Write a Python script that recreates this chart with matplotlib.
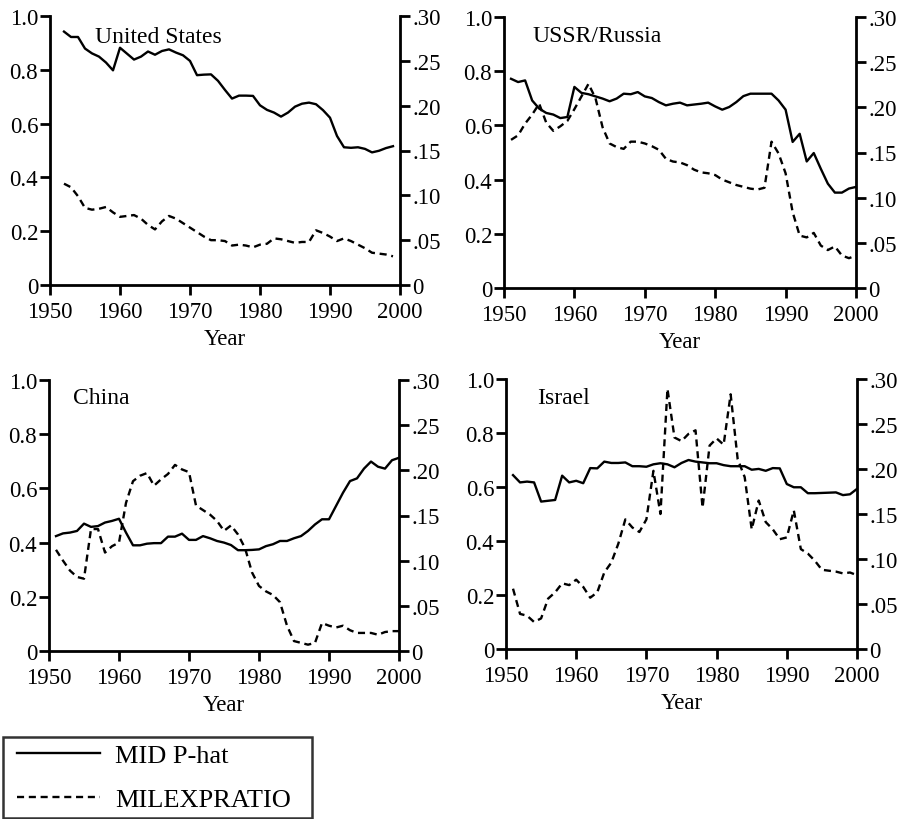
import matplotlib
matplotlib.use("Agg")
import matplotlib.pyplot as plt
from matplotlib.lines import Line2D
from matplotlib.legend_handler import HandlerLine2D

plt.rcParams['font.family'] = ['Liberation Serif', 'DejaVu Serif']
FS = 16.5

# ---------------- data ----------------
us_years = list(range(1952, 2000))
us_phat = [0.942, 0.922, 0.922, 0.879, 0.861, 0.849, 0.827, 0.798, 0.882, 0.860,
           0.838, 0.849, 0.868, 0.856, 0.870, 0.876, 0.864, 0.854, 0.833, 0.780,
           0.782, 0.783, 0.759, 0.725, 0.693, 0.704, 0.704, 0.703, 0.668, 0.651,
           0.641, 0.626, 0.641, 0.663, 0.674, 0.678, 0.672, 0.650, 0.622, 0.554,
           0.512, 0.510, 0.512, 0.506, 0.493, 0.499, 0.509, 0.516]
us_milex = [.113, .109, .099, .086, .084, .085, .087, .081, .076, .077,
            .078, .074, .067, .062, .071, .077, .074, .069, .064, .059,
            .054, .050, .050, .049, .044, .045, .044, .042, .045, .046,
            .052, .051, .049, .047, .048, .048, .061, .058, .054, .049,
            .052, .049, .045, .041, .036, .035, .034, .032]

ru_years = list(range(1951, 2001))
ru_phat = [0.772, 0.760, 0.766, 0.692, 0.662, 0.646, 0.640, 0.627, 0.631, 0.742,
           0.720, 0.715, 0.707, 0.699, 0.689, 0.699, 0.717, 0.715, 0.723, 0.707,
           0.701, 0.686, 0.674, 0.680, 0.684, 0.674, 0.677, 0.680, 0.684, 0.670,
           0.658, 0.668, 0.686, 0.708, 0.717, 0.717, 0.717, 0.717, 0.692, 0.658,
           0.539, 0.569, 0.467, 0.498, 0.440, 0.385, 0.352, 0.352, 0.367, 0.373]
ru_milex = [.164, .169, .182, .192, .204, .183, .174, .179, .185, .198,
            .212, .226, .210, .178, .160, .156, .154, .162, .162, .160,
            .157, .153, .143, .140, .139, .136, .131, .128, .127, .125,
            .120, .117, .114, .112, .110, .109, .111, .162, .149, .127,
            .084, .058, .056, .061, .047, .042, .046, .036, .033, .036]

cn_years = list(range(1951, 2001))
cn_phat = [0.424, 0.434, 0.437, 0.443, 0.470, 0.458, 0.461, 0.474, 0.480, 0.488,
           0.437, 0.390, 0.390, 0.396, 0.398, 0.398, 0.422, 0.422, 0.433, 0.410,
           0.410, 0.424, 0.416, 0.406, 0.400, 0.391, 0.372, 0.372, 0.373, 0.375,
           0.387, 0.394, 0.406, 0.406, 0.416, 0.424, 0.443, 0.467, 0.486, 0.486,
           0.535, 0.584, 0.627, 0.637, 0.673, 0.699, 0.680, 0.673, 0.704, 0.713]
cn_milex = [.112, .100, .089, .082, .080, .135, .135, .109, .116, .120,
            .164, .188, .194, .197, .183, .190, .196, .206, .201, .198,
            .161, .156, .151, .144, .133, .139, .129, .114, .087, .072,
            .066, .062, .054, .028, .011, .009, .007, .009, .031, .028,
            .026, .028, .023, .020, .020, .020, .018, .021, .022, .022]

il_years = list(range(1951, 2001))
il_phat = [0.644, 0.617, 0.620, 0.617, 0.546, 0.549, 0.552, 0.642, 0.617, 0.623,
           0.614, 0.670, 0.669, 0.694, 0.689, 0.689, 0.691, 0.677, 0.677, 0.675,
           0.684, 0.688, 0.684, 0.673, 0.689, 0.700, 0.694, 0.691, 0.688, 0.688,
           0.681, 0.677, 0.677, 0.677, 0.664, 0.667, 0.660, 0.670, 0.669, 0.611,
           0.599, 0.599, 0.577, 0.577, 0.578, 0.579, 0.580, 0.570, 0.573, 0.593]
il_milex = [.067, .039, .037, .030, .034, .056, .063, .073, .071, .077,
            .069, .057, .063, .085, .096, .117, .144, .135, .130, .144,
            .198, .150, .289, .235, .231, .239, .243, .157, .226, .234,
            .227, .283, .211, .191, .133, .165, .141, .133, .122, .124,
            .154, .111, .106, .098, .088, .087, .086, .084, .085, .082]

panels = [
    ("United States", us_years, us_phat, us_milex),
    ("USSR/Russia", ru_years, ru_phat, ru_milex),
    ("China", cn_years, cn_phat, cn_milex),
    ("Israel", il_years, il_phat, il_milex),
]

left_ticks = [0, 0.2, 0.4, 0.6, 0.8, 1.0]
left_labels = ["0", "0.2", "0.4", "0.6", "0.8", "1.0"]
right_ticks = [0, .05, .10, .15, .20, .25, .30]
right_labels = ["0", ".05", ".10", ".15", ".20", ".25", ".30"]
x_ticks = [1950, 1960, 1970, 1980, 1990, 2000]
legend_labels = ["MID P-hat", "MILEXPRATIO"]

# ---------------- layout ----------------
W, H = 909, 820
fig = plt.figure(figsize=(W / 100, H / 100), dpi=100)

boxes = [  # left, top(1.0), right, bottom(0) in pixels
    (50, 17, 400, 286),
    (504, 18, 856, 289),
    (49, 381, 399, 652),
    (506, 380, 857, 650),
]
title_pos = [(0.129, 0.925), (0.082, 0.93), (0.069, 0.937), (0.088, 0.933)]

LW = 1.7
SPW = 2.0
TL = 7.5
DASH = (0, (3, 2))

for (name, yrs, phat, milex), (l, t, r, b), (tx, ty) in zip(panels, boxes, title_pos):
    ax = fig.add_axes([l / W, 1 - b / H, (r - l) / W, (b - t) / H])
    ax2 = ax.twinx()
    ax.plot(yrs, phat, color='black', lw=LW)
    ax2.plot(yrs, milex, color='black', lw=LW, linestyle=DASH)
    ax.set_xlim(1950, 2000)
    ax.set_ylim(0, 1.0)
    ax2.set_ylim(0, 0.30)
    for a in (ax, ax2):
        a.spines['top'].set_visible(False)
        for s in a.spines.values():
            s.set_linewidth(SPW)
        a.patch.set_visible(False)
    ax.spines['right'].set_visible(False)
    ax2.spines['left'].set_visible(False)
    ax2.spines['bottom'].set_visible(False)
    ax.set_yticks(left_ticks)
    ax.set_yticklabels(left_labels)
    ax2.set_yticks(right_ticks)
    ax2.set_yticklabels(right_labels)
    ax.set_xticks(x_ticks)
    ax.set_xticklabels([str(v) for v in x_ticks])
    ax.tick_params(axis='y', direction='out', length=TL, width=SPW,
                   labelsize=FS, pad=1)
    ax.tick_params(axis='x', direction='out', length=TL, width=SPW,
                   labelsize=FS, pad=4)
    ax2.tick_params(axis='y', direction='out', length=TL, width=SPW,
                    labelsize=FS, pad=1.5)
    ax.set_xlabel("Year", fontsize=FS, labelpad=4)
    ax.text(tx, ty, name, transform=ax.transAxes, fontsize=17,
            ha='left', va='center')

LFS = 19
handles = [Line2D([], [], color='black', lw=LW),
           Line2D([], [], color='black', lw=LW, linestyle=DASH)]
hmap = {h: HandlerLine2D(xpad=0.27) for h in handles}
leg = fig.legend(handles, legend_labels, handler_map=hmap,
                 loc='lower left', mode='expand',
                 bbox_to_anchor=(3 / W, 1 - 819 / H, 309 / W, 84 / H),
                 fontsize=LFS, frameon=True, fancybox=False, handlelength=3.42,
                 handletextpad=0.57, borderpad=0.27, labelspacing=0.76,
                 borderaxespad=0, edgecolor='black')
leg.get_frame().set_linewidth(1.8)

fig.savefig("out.png", dpi=100)
